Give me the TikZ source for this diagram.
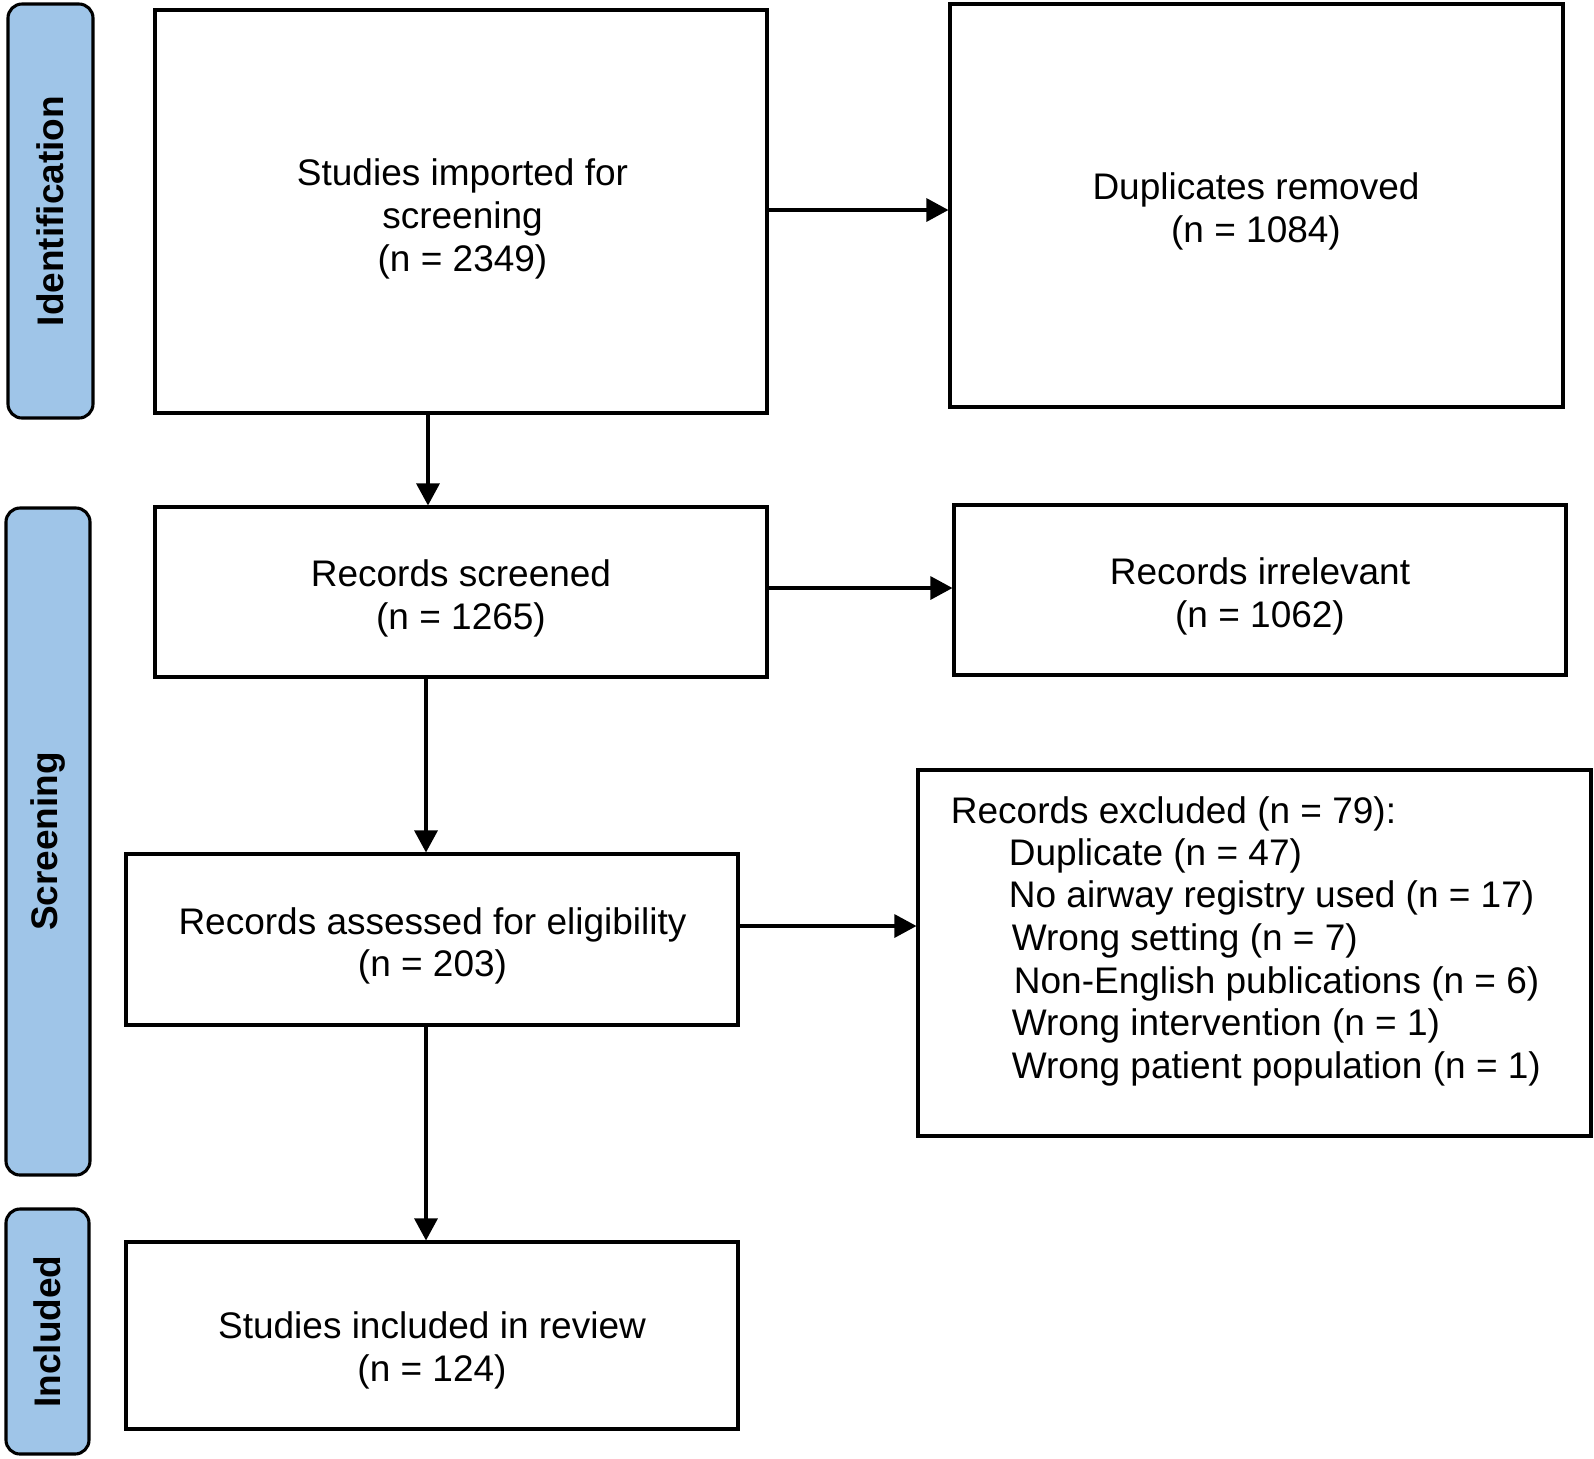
\documentclass[tikz,border=0pt]{standalone}
\usepackage{fontspec}
\setmainfont{Liberation Sans}
\usetikzlibrary{arrows.meta}
\definecolor{barblue}{HTML}{9FC5E8}
\begin{document}
\begin{tikzpicture}[x=0.5pt,y=-0.5pt,
 every node/.style={font=\fontsize{18.5pt}{21.4pt}\selectfont},
 box/.style={draw, line width=1.55pt, inner sep=0pt},
 txt/.style={align=center, inner sep=0pt},
 bar/.style={draw, line width=1.55pt, fill=barblue, rounded corners=7pt, rotate=90, inner sep=0pt, font=\fontsize{18.5pt}{21.4pt}\selectfont\bfseries},
 arr/.style={line width=1.55pt, -{Triangle[length=11pt,width=11.5pt]}},
 exl/.style={anchor=west, inner sep=0pt}]
\useasboundingbox (0,0) rectangle (1594,1458);
% phase bars
\node[bar, minimum width=207pt, minimum height=42.5pt] (pid) at (50.5,211) {Identification};
\node[bar, minimum width=333.5pt, minimum height=42pt] (psc) at (48,841.5) {Screening};
\node[bar, minimum width=122.5pt, minimum height=41.5pt] (pin) at (47.5,1331.5) {Included};
% boxes
\node[box, minimum width=306pt, minimum height=201.5pt] (b1) at (461,211.5) {};
\node[box, minimum width=306.5pt, minimum height=201.5pt] (b2) at (1256.5,205.5) {};
\node[box, minimum width=306pt, minimum height=85pt] (b3) at (461,592) {};
\node[box, minimum width=306pt, minimum height=85pt] (b4) at (1260,590) {};
\node[box, minimum width=306pt, minimum height=85.5pt] (b5) at (432,939.5) {};
\node[box, minimum width=336.5pt, minimum height=183pt] (b6) at (1254.5,953) {};
\node[box, minimum width=306pt, minimum height=93.5pt] (b7) at (432,1335.5) {};
% box texts
\node[txt] (t1) at (462.5,219) {Studies imported for\\screening\\(n = 2349)};
\node[txt] (t2) at (1256,211.5) {Duplicates removed\\(n = 1084)};
\node[txt] (t3) at (461,598.5) {Records screened\\(n = 1265)};
\node[txt] (t4) at (1260,596.5) {Records irrelevant\\(n = 1062)};
\node[txt] (t5) at (432.5,946) {Records assessed for eligibility\\(n = 203)};
\node[txt] (t7) at (432,1350.5) {Studies included in review\\(n = 124)};
% excluded list
\node[exl] (e0) at (950.5,813.5) {Records excluded (n = 79):};
\node[exl] (e1) at (1008.5,855.5) {Duplicate (n = 47)};
\node[exl] (e2) at (1008.5,898.1) {No airway registry used (n = 17)};
\node[exl] (e3) at (1011.5,940.8) {Wrong setting (n = 7)};
\node[exl] (e4) at (1013.5,983.5) {Non-English publications (n = 6)};
\node[exl] (e5) at (1011.5,1026.2) {Wrong intervention (n = 1)};
\node[exl] (e6) at (1011.5,1068.9) {Wrong patient population (n = 1)};
% connectors
\coordinate (r1) at (0,210);
\coordinate (r2) at (0,588);
\coordinate (r3) at (0,926);
\coordinate (c1) at (428,0);
\coordinate (c2) at (426,0);
\draw[arr] (b1.east |- r1) -- (b2.west |- r1);
\draw[arr] (b3.east |- r2) -- (b4.west |- r2);
\draw[arr] (b5.east |- r3) -- (b6.west |- r3);
\draw[arr] (b1.south -| c1) -- (b3.north -| c1);
\draw[arr] (b3.south -| c2) -- (b5.north -| c2);
\draw[arr] (b5.south -| c2) -- (b7.north -| c2);
\end{tikzpicture}
\end{document}
